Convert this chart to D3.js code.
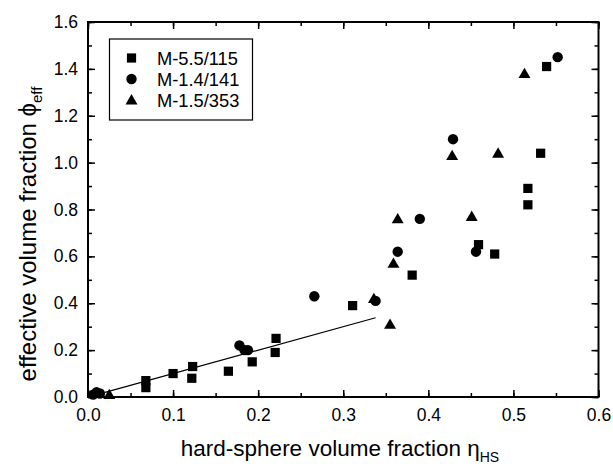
<!DOCTYPE html>
<html><head><meta charset="utf-8">
<script src="https://cdn.jsdelivr.net/npm/d3@7"></script>
<style>body{margin:0;background:#fff;} text{font-family:"Liberation Sans",Arial,sans-serif;fill:#000;}</style>
</head><body>
<svg id="c" width="613" height="464"></svg>
<script>
const seriesNames = ["M-5.5/115", "M-1.4/141", "M-1.5/353"];
const sqX = [0.068, 0.068, 0.100, 0.123, 0.122, 0.165, 0.193, 0.221, 0.220, 0.311, 0.381, 0.459, 0.478, 0.517, 0.517, 0.532, 0.539];
const sqY = [0.07, 0.04, 0.10, 0.13, 0.08, 0.11, 0.15, 0.25, 0.19, 0.39, 0.52, 0.65, 0.61, 0.89, 0.82, 1.04, 1.41];
const ciX = [0.006, 0.010, 0.014, 0.178, 0.184, 0.188, 0.266, 0.338, 0.364, 0.390, 0.429, 0.456, 0.552];
const ciY = [0.01, 0.02, 0.015, 0.22, 0.20, 0.20, 0.43, 0.41, 0.62, 0.76, 1.10, 0.62, 1.45];
const trX = [0.025, 0.336, 0.355, 0.359, 0.364, 0.428, 0.451, 0.482, 0.513];
const trY = [0.01, 0.42, 0.31, 0.57, 0.76, 1.03, 0.77, 1.04, 1.38];
const fitX = [0.02, 0.338];
const fitY = [0.02, 0.338];
const xTicks = [0.0, 0.1, 0.2, 0.3, 0.4, 0.5, 0.6];
const yTicks = [0.0, 0.2, 0.4, 0.6, 0.8, 1.0, 1.2, 1.4, 1.6];

const L = 88, R = 598.5, T = 22, B = 397;
const svg = d3.select("#c");
const x = d3.scaleLinear().domain([0, 0.6]).range([L, R]);
const y = d3.scaleLinear().domain([0, 1.6]).range([B, T]);

const xMinor = d3.range(0, 0.6001, 0.05);
const yMinor = d3.range(0, 1.6001, 0.1);

function axes() {
  svg.append("g").attr("transform", `translate(0,${B})`)
    .call(d3.axisBottom(x).tickValues(xMinor).tickSize(-4).tickFormat(""));
  svg.append("g").attr("transform", `translate(0,${B})`)
    .call(d3.axisBottom(x).tickValues(xTicks).tickSize(-7).tickPadding(12).tickFormat(d3.format(".1f")));
  svg.append("g").attr("transform", `translate(0,${T})`)
    .call(d3.axisTop(x).tickValues(xMinor).tickSize(-4).tickFormat(""));
  svg.append("g").attr("transform", `translate(0,${T})`)
    .call(d3.axisTop(x).tickValues(xTicks).tickSize(-7).tickFormat(""));
  svg.append("g").attr("transform", `translate(${L},0)`)
    .call(d3.axisLeft(y).tickValues(yMinor).tickSize(-4).tickFormat(""));
  svg.append("g").attr("transform", `translate(${L},0)`)
    .call(d3.axisLeft(y).tickValues(yTicks).tickSize(-7).tickPadding(10).tickFormat(d3.format(".1f")));
  svg.append("g").attr("transform", `translate(${R},0)`)
    .call(d3.axisRight(y).tickValues(yMinor).tickSize(-4).tickFormat(""));
  svg.append("g").attr("transform", `translate(${R},0)`)
    .call(d3.axisRight(y).tickValues(yTicks).tickSize(-7).tickFormat(""));
  svg.selectAll(".domain").remove();
  svg.selectAll(".tick line").attr("stroke", "#000").attr("stroke-width", 1.5);
  svg.selectAll(".tick text").style("font-size", "17.5px").style("font-family", "'Liberation Sans',Arial,sans-serif").attr("fill", "#000");
}
axes();
svg.append("rect").attr("x", L).attr("y", T).attr("width", R - L).attr("height", B - T)
  .attr("fill", "none").attr("stroke", "#000").attr("stroke-width", 2);

svg.append("line").attr("x1", x(fitX[0])).attr("y1", y(fitY[0])).attr("x2", x(fitX[1])).attr("y2", y(fitY[1]))
  .attr("stroke", "#000").attr("stroke-width", 1.2);

const sym = [d3.symbolSquare, d3.symbolCircle, d3.symbolTriangle];
const sizes = [85, 85, 62];
const data = [
  sqX.map((v, i) => [v, sqY[i]]),
  ciX.map((v, i) => [v, ciY[i]]),
  trX.map((v, i) => [v, trY[i]])
];
data.forEach((pts, s) => {
  svg.append("g").selectAll("path").data(pts).join("path")
    .attr("d", d3.symbol().type(sym[s]).size(sizes[s]))
    .attr("transform", d => `translate(${x(d[0])},${y(d[1]) + (s === 2 ? 1 : 0)})`)
    .attr("fill", "#000");
});

svg.append("rect").attr("x", 109.5).attr("y", 39).attr("width", 143).attr("height", 81)
  .attr("fill", "#fff").attr("stroke", "#000").attr("stroke-width", 1.2);
seriesNames.forEach((n, i) => {
  const yy = 58 + i * 21;
  svg.append("path").attr("d", d3.symbol().type(sym[i]).size(sizes[i])())
    .attr("transform", `translate(131.5,${yy + (i === 2 ? 1 : 0)})`).attr("fill", "#000");
  svg.append("text").attr("x", 157).attr("y", yy + 6.5).style("font-size", "18.3px").text(n);
});

const xt = svg.append("text").attr("x", 340).attr("y", 456).attr("text-anchor", "middle").style("font-size", "22.5px");
xt.append("tspan").text("hard-sphere volume fraction \u03B7");
xt.append("tspan").attr("dy", 6).style("font-size", "14px").text("HS");

const yt = svg.append("text").attr("transform", "translate(36,234) rotate(-90)").attr("text-anchor", "middle").style("font-size", "24px");
yt.append("tspan").text("effective volume fraction \u03D5");
yt.append("tspan").attr("dy", 6).style("font-size", "15px").text("eff");
</script>
</body></html>
